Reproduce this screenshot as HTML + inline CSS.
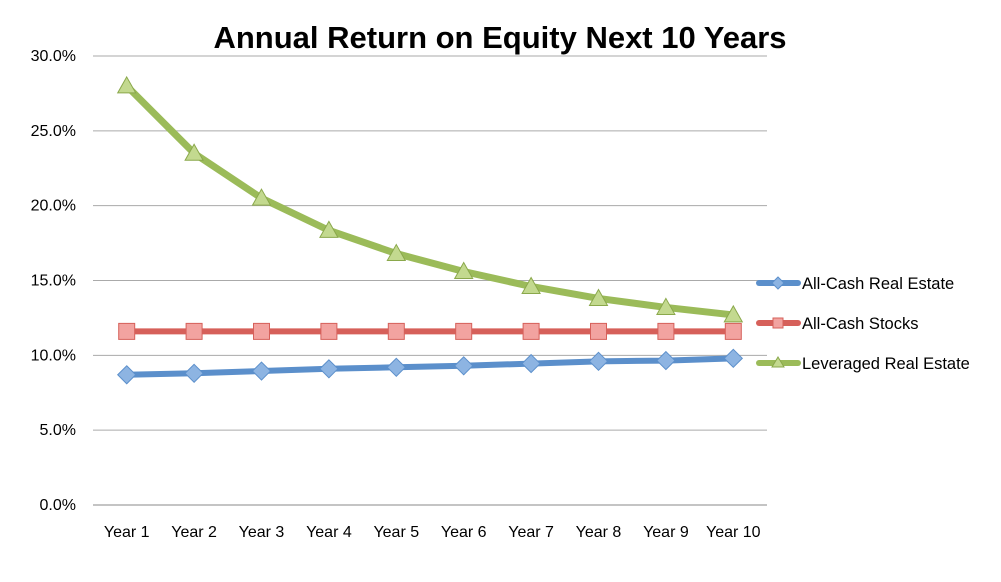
<!DOCTYPE html>
<html><head><meta charset="utf-8"><style>
body{margin:0;background:#fff;font-family:"Liberation Sans",sans-serif}
svg text{font-family:"Liberation Sans",sans-serif}
</style></head><body>
<svg id="chart" width="1001" height="577" viewBox="0 0 1001 577" xmlns="http://www.w3.org/2000/svg">
<rect width="1001" height="577" fill="#fff"/>
<text x="500" y="48" text-anchor="middle" font-size="31" font-weight="bold" fill="#000">Annual Return on Equity Next 10 Years</text>
<g id="grid"></g><g id="series"></g><g id="legend"></g>
</svg>
<script>
const categories=["Year 1","Year 2","Year 3","Year 4","Year 5","Year 6","Year 7","Year 8","Year 9","Year 10"];
const cashRealEstate=[8.7,8.8,8.95,9.1,9.2,9.3,9.45,9.6,9.65,9.8];
const cashStocks=[11.6,11.6,11.6,11.6,11.6,11.6,11.6,11.6,11.6,11.6];
const leveragedRealEstate=[28.0,23.5,20.5,18.35,16.8,15.6,14.6,13.8,13.2,12.7];
const yTicks=[0,5,10,15,20,25,30];
const seriesNames=["All-Cash Real Estate","All-Cash Stocks","Leveraged Real Estate"];
const NS="http://www.w3.org/2000/svg";
const X0=93,X1=767,Y0=505,Y1=56;
const x=i=>X0+(X1-X0)*(i+0.5)/categories.length;
const y=v=>Y0-(Y0-Y1)*v/30;
function mk(t,a,p){const e=document.createElementNS(NS,t);for(const k in a)e.setAttribute(k,a[k]);p.appendChild(e);return e;}
const grid=document.getElementById('grid');
yTicks.forEach(v=>{
 const l=mk('line',{x1:X0,x2:X1,y1:y(v),y2:y(v),stroke:v===0?'#888':'#aaa','stroke-width':1},grid);
 
 
 const t=mk('text',{x:76,y:y(v)+5,'text-anchor':'end','font-size':16,fill:'#000'},grid);t.textContent=v.toFixed(1)+'%';
 
 
});
categories.forEach((c,i)=>{
 const t=mk('text',{x:x(i),y:537,'text-anchor':'middle','font-size':16,fill:'#000'},grid);t.textContent=c;
 
 
});
const colors=["#5b8fcb","#d6605a","#9bbb59"];
const fills=["#8db4e2","#f2a3a0","#c3d98f"];
function marker(k,cx,cy,s,g){
 let e;
 if(k===0)e=mk('polygon',{points:`${cx},${cy-s} ${cx+s},${cy} ${cx},${cy+s} ${cx-s},${cy}`,fill:fills[0],stroke:colors[0],'stroke-width':1},g);
 else if(k===1)e=mk('rect',{x:cx-s+1,y:cy-s+1,width:2*s-2,height:2*s-2,fill:fills[1],stroke:colors[1],'stroke-width':1},g);
 else e=mk('polygon',{points:`${cx},${cy-s} ${cx+s},${cy+s-2} ${cx-s},${cy+s-2}`,fill:fills[2],stroke:'#8aa84b','stroke-width':1},g);
 return e;
}
const sg=document.getElementById('series');
[cashRealEstate,cashStocks,leveragedRealEstate].forEach((data,k)=>{
 const g=mk('g',{},sg);
 
 
 const p=mk('polyline',{points:data.map((v,i)=>x(i)+','+y(v)).join(' '),fill:'none',stroke:colors[k],'stroke-width':k===2?7:6,'stroke-linejoin':'round'},g);
 
 
 data.forEach((v,i)=>{const m=marker(k,x(i),y(v),9,g);
  
  });
});
const lg=document.getElementById('legend');
seriesNames.forEach((n,k)=>{
 const cy=283+k*40;
 const g=mk('g',{},lg);
 
 
 mk('line',{x1:759,x2:798,y1:cy,y2:cy,stroke:colors[k],'stroke-width':6,'stroke-linecap':'round'},g);
 marker(k,778,cy,6,g);
 const t=mk('text',{x:802,y:cy+6,'font-size':16.5,fill:'#000'},g);t.textContent=n;
});
</script>
</body></html>
